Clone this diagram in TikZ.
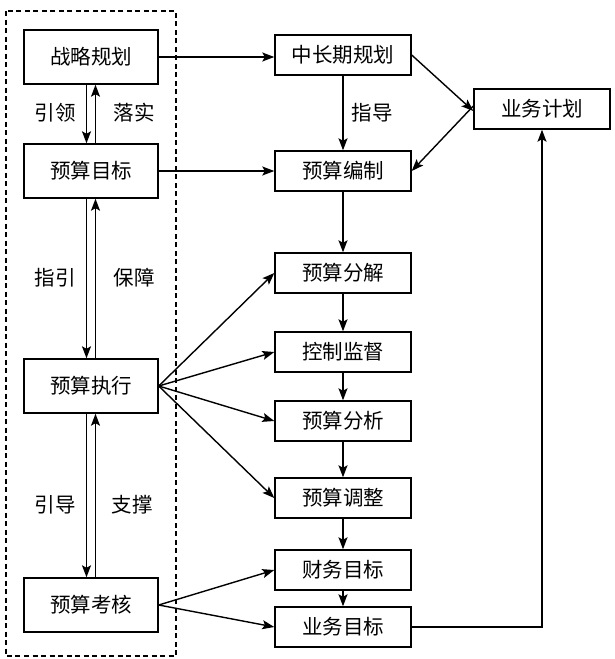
\documentclass[tikz,border=0pt]{standalone}
\usepackage{fontspec}
\setmainfont{Noto Sans CJK SC}
\usetikzlibrary{arrows.meta}
\begin{document}
\begin{tikzpicture}[x=1pt,y=-1pt,
  lbox/.style={draw,line width=1.4pt,minimum width=134pt,minimum height=54pt,inner sep=0pt,font=\fontsize{20.5}{22}\selectfont},
  mbox/.style={draw,line width=1.4pt,minimum width=136pt,minimum height=40pt,inner sep=0pt,font=\fontsize{20.5}{22}\selectfont},
  lab/.style={font=\fontsize{20.5}{22}\selectfont,inner sep=0pt},
  arr/.style={line width=1.4pt,-{Stealth[length=12pt,width=9pt,inset=2.5pt]}},
  ln/.style={line width=1.4pt}]
\useasboundingbox (0,0) rectangle (615,659);
\draw[line width=1.4pt,dash pattern=on 5pt off 3.5pt] (6,11) rectangle (176,656);
% left
\node[lbox] (zl) at (91,57) {战略规划};
\node[lbox] (ym) at (91,171) {预算目标};
\node[lbox] (zx) at (91,386) {预算执行};
\node[lbox] (kh) at (91,605) {预算考核};
% middle
\node[mbox] (zc) at (343,55) {中长期规划};
\node[mbox] (bz) at (343,171) {预算编制};
\node[mbox] (fj) at (343,273) {预算分解};
\node[mbox] (kz) at (343,352) {控制监督};
\node[mbox] (fx) at (343,421) {预算分析};
\node[mbox] (tz) at (343,498) {预算调整};
\node[mbox] (cw) at (343,570) {财务目标};
\node[mbox] (yw) at (343,627) {业务目标};
% right
\node[mbox] (jh) at (542,109) {业务计划};
% labels
\node[lab] (l1) at (55,113) {引领};
\node[lab] (l2) at (134,113) {落实};
\node[lab] (l3) at (55,278) {指引};
\node[lab] (l4) at (134,278) {保障};
\node[lab] (l5) at (55,505) {引导};
\node[lab] (l6) at (132,505) {支撑};
\node[lab] (l7) at (372,113) {指导};
% left vertical arrows
\draw[arr] ([xshift=-4.5pt]zl.south) -- ([xshift=-4.5pt]ym.north);
\draw[arr] ([xshift=4.5pt]ym.north) -- ([xshift=4.5pt]zl.south);
\draw[arr] ([xshift=-4.5pt]ym.south) -- ([xshift=-4.5pt]zx.north);
\draw[arr] ([xshift=4.5pt]zx.north) -- ([xshift=4.5pt]ym.south);
\draw[arr] ([xshift=-4.5pt]zx.south) -- ([xshift=-4.5pt]kh.north);
\draw[arr] ([xshift=4.5pt]kh.north) -- ([xshift=4.5pt]zx.south);
% horizontal
\draw[arr] (zl.east) -- (zl.east -| zc.west);
\draw[arr] (ym.east) -- (bz.west);
% middle chain
\draw[arr] (zc.south) -- (bz.north);
\draw[arr] (bz.south) -- (fj.north);
\draw[arr] (fj.south) -- (kz.north);
\draw[arr] (kz.south) -- (fx.north);
\draw[arr] (fx.south) -- (tz.north);
\draw[arr] (tz.south) -- (cw.north);
\draw[arr] (cw.south) -- (yw.north);
% right
\draw[arr] (zc.east) -- ([yshift=-2pt]jh.west);
\draw[arr] ([yshift=3pt]jh.west) -- (bz.east);
\draw[arr] (yw.east) -| (jh.south);
% fans
\draw[arr] (zx.east) -- (fj.west);
\draw[arr] (zx.east) -- (kz.west);
\draw[arr] (zx.east) -- (fx.west);
\draw[arr] (zx.east) -- (tz.west);
\draw[arr] (kh.east) -- (cw.west);
\draw[arr] (kh.east) -- (yw.west);
\end{tikzpicture}
\end{document}
